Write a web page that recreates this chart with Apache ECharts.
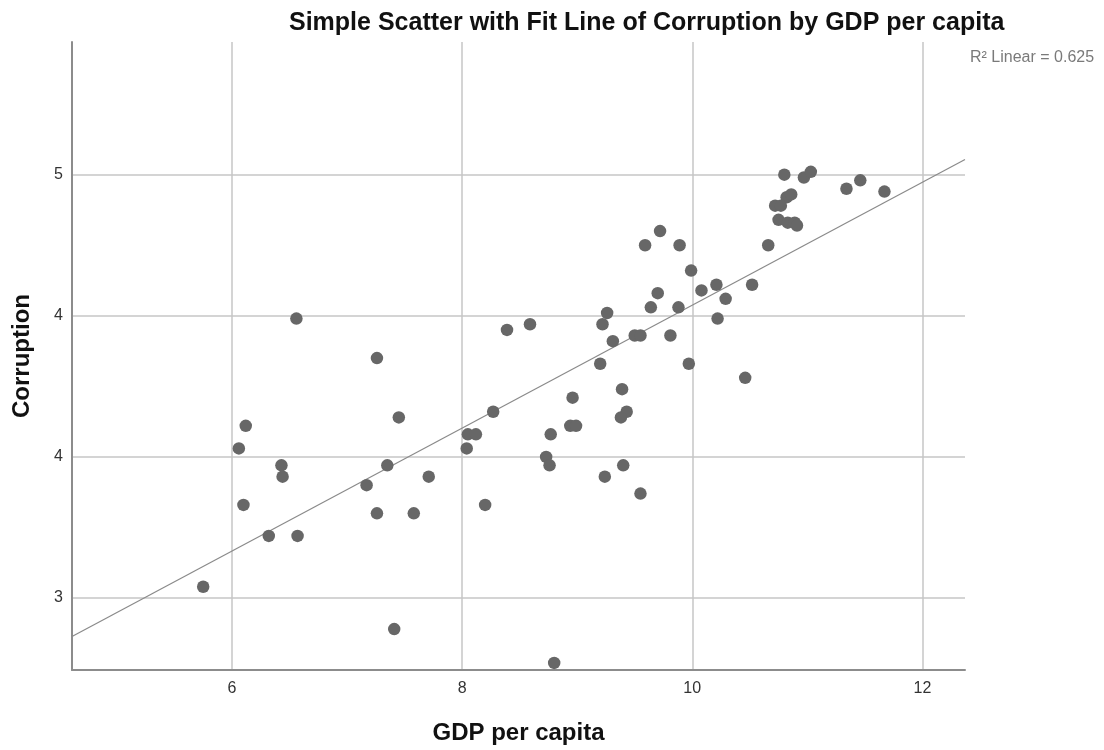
<!DOCTYPE html>
<html>
<head>
<meta charset="utf-8">
<title>Corruption by GDP per capita</title>
<script src="https://cdn.jsdelivr.net/npm/echarts@6/dist/echarts.min.js"></script>
<style>
  html, body { margin: 0; padding: 0; background: #ffffff; }
  #chart { width: 1104px; height: 750px; }
</style>
</head>
<body>
<div id="chart"></div>
<script>
// GDP per capita (x) and Corruption (y), one entry per country
const gdpPerCapita = [
  5.75, 6.06, 6.12, 6.10, 6.32, 6.43, 6.44, 6.56, 6.57,
  7.26, 7.17, 7.26, 7.35, 7.45, 7.58, 7.71, 7.41,
  8.04, 8.05, 8.12, 8.20, 8.27, 8.39, 8.59, 8.73, 8.76, 8.77, 8.80,
  8.94, 8.99, 8.96, 9.20, 9.24, 9.22, 9.26, 9.31, 9.39, 9.43, 9.38, 9.40,
  9.55, 9.50, 9.55, 9.64, 9.70, 9.88, 9.81, 9.97,
  10.08, 10.21, 10.29, 10.22, 10.52, 10.46,
  9.59, 9.72, 9.89, 9.99, 10.66,
  10.80, 10.97, 11.03, 10.82, 10.86, 10.72, 10.77,
  10.75, 10.83, 10.89, 10.91, 11.34, 11.46, 11.67
];
const corruption = [
  3.54, 4.03, 4.11, 3.83, 3.72, 3.97, 3.93, 4.49, 3.72,
  4.35, 3.90, 3.80, 3.97, 4.14, 3.80, 3.93, 3.39,
  4.03, 4.08, 4.08, 3.83, 4.16, 4.45, 4.47, 4.00, 3.97, 4.08, 3.27,
  4.11, 4.11, 4.21, 4.33, 3.93, 4.47, 4.51, 4.41, 4.24, 4.16, 4.14, 3.97,
  3.87, 4.43, 4.43, 4.53, 4.58, 4.53, 4.43, 4.33,
  4.59, 4.61, 4.56, 4.49, 4.61, 4.28,
  4.75, 4.80, 4.75, 4.66, 4.75,
  5.00, 4.99, 5.01, 4.92, 4.93, 4.89, 4.89,
  4.84, 4.83, 4.83, 4.82, 4.95, 4.98, 4.94
];

// Axis ranges and ticks
const xRange = [4.61, 12.37];
const yRange = [3.245, 5.47];
const xTickValues = [6, 8, 10, 12];
const yTickValues = [3.5, 4, 4.5, 5];
const yTickLabels = ['3', '4', '4', '5'];
const rSquaredText = 'R\u00b2 Linear = 0.625';

// Ordinary least squares fit of corruption on GDP per capita
function linearFit(xs, ys) {
  const n = xs.length;
  let sx = 0, sy = 0;
  for (let i = 0; i < n; i++) { sx += xs[i]; sy += ys[i]; }
  const mx = sx / n, my = sy / n;
  let sxy = 0, sxx = 0;
  for (let i = 0; i < n; i++) {
    sxy += (xs[i] - mx) * (ys[i] - my);
    sxx += (xs[i] - mx) * (xs[i] - mx);
  }
  const slope = sxy / sxx;
  return { slope: slope, intercept: my - slope * mx };
}
const fit = linearFit(gdpPerCapita, corruption);
const fitLine = xRange.map(x => [x, fit.intercept + fit.slope * x]);
const points = gdpPerCapita.map((x, i) => [x, corruption[i]]);

const GRID_COLOR = '#c6c6c6';
const AXIS_COLOR = '#8c8c8c';
const LABEL_COLOR = '#333333';
const FONT = '"Liberation Sans", Arial, sans-serif';

const chart = echarts.init(document.getElementById('chart'), null, { renderer: 'canvas' });
chart.setOption({
  animation: false,
  backgroundColor: '#ffffff',
  textStyle: { fontFamily: FONT },
  title: {
    text: 'Simple Scatter with Fit Line of Corruption by GDP per capita',
    left: 284,
    top: 6,
    textStyle: { fontFamily: FONT, fontSize: 25, fontWeight: 'bold', color: '#111111' }
  },
  grid: { left: 72, right: 139, top: 42, bottom: 80, containLabel: false },
  xAxis: {
    type: 'value',
    min: xRange[0],
    max: xRange[1],
    name: 'GDP per capita',
    nameLocation: 'middle',
    nameGap: 51,
    nameTextStyle: { fontFamily: FONT, fontSize: 24, fontWeight: 'bold', color: '#111111' },
    axisLine: { show: true, onZero: false, lineStyle: { color: AXIS_COLOR, width: 2 } },
    axisTick: { show: false, customValues: xTickValues },
    axisLabel: {
      customValues: xTickValues,
      color: LABEL_COLOR, fontSize: 16, margin: 11,
      formatter: v => String(v)
    },
    splitLine: { show: true, lineStyle: { color: GRID_COLOR, width: 1.5 } }
  },
  yAxis: {
    type: 'value',
    min: yRange[0],
    max: yRange[1],
    name: 'Corruption',
    nameLocation: 'middle',
    nameGap: 38,
    nameTextStyle: { fontFamily: FONT, fontSize: 24, fontWeight: 'bold', color: '#111111' },
    axisLine: { show: true, onZero: false, lineStyle: { color: AXIS_COLOR, width: 2 } },
    axisTick: { show: false, customValues: yTickValues },
    axisLabel: {
      customValues: yTickValues,
      color: LABEL_COLOR, fontSize: 16, margin: 9,
      formatter: v => yTickLabels[yTickValues.indexOf(v)]
    },
    splitLine: { show: true, lineStyle: { color: GRID_COLOR, width: 1.5 } }
  },
  graphic: [{
    type: 'text',
    left: 970,
    top: 50,
    style: { text: rSquaredText, fill: '#7a7a7a', font: '16px ' + FONT }
  }],
  series: [
    {
      name: 'Fit line',
      type: 'line',
      data: fitLine,
      symbol: 'none',
      clip: true,
      lineStyle: { color: '#8a8a8a', width: 1.2 },
      silent: true,
      z: 2
    },
    {
      name: 'Corruption',
      type: 'scatter',
      data: points,
      symbol: 'circle',
      symbolSize: 12.5,
      itemStyle: { color: '#676767', opacity: 1 },
      z: 3
    }
  ]
});
</script>
</body>
</html>
